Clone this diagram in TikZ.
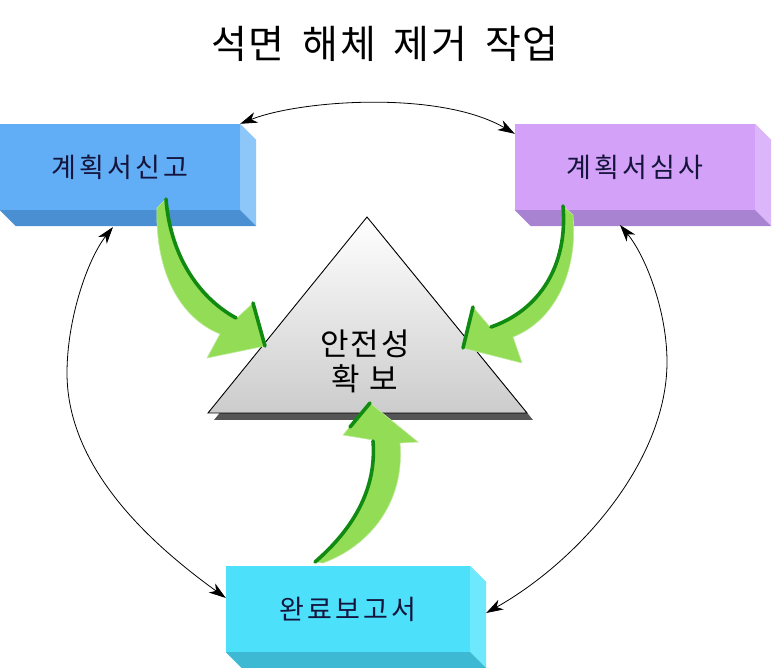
\documentclass[tikz,border=0pt]{standalone}
\usepackage{fontspec}
\usetikzlibrary{arrows.meta,calc}
\newfontfamily\kr{Noto Sans CJK KR}
\newfontfamily\krsp[LetterSpace=12]{Noto Sans CJK KR}
\newfontfamily\krti[LetterSpace=4]{Noto Sans CJK KR}
\definecolor{bfront}{HTML}{62AEF6}
\definecolor{bside}{HTML}{8DC6F9}
\definecolor{bbot}{HTML}{4B8FD3}
\definecolor{pfront}{HTML}{D3A1F8}
\definecolor{pside}{HTML}{DCB6FA}
\definecolor{pbot}{HTML}{A883D2}
\definecolor{cfront}{HTML}{4CE0FA}
\definecolor{cside}{HTML}{6EE8FD}
\definecolor{cbot}{HTML}{3DB9D3}
\definecolor{boxtext}{HTML}{14143C}
\definecolor{gfill}{HTML}{92DC56}
\definecolor{gdark}{HTML}{108A10}
\definecolor{trishadow}{HTML}{555555}
\tikzset{
  face/.style={draw=none, minimum height=86pt, inner sep=0pt, text=boxtext,
    font={\krsp\fontsize{27pt}{30pt}\selectfont}},
  garrow/.style={fill=gfill, draw=gfill!60!white, line width=0.6pt},
  gedge/.style={draw=gdark, line width=3.6pt, line cap=round},
  arc/.style={draw=black, line width=0.8pt, {Stealth[length=17pt,width=11pt,inset=5pt]}-{Stealth[length=17pt,width=11pt,inset=5pt]}}
}
\begin{document}
\begin{tikzpicture}[x=1pt,y=-1pt]
\useasboundingbox (0,0) rectangle (772,668);
\fill[white] (0,0) rectangle (772,668);

% title
\node[font={\krti\fontsize{39pt}{42pt}\selectfont}] (title) at (385,44)
  {석면\hspace{18pt}해체\hspace{18pt}제거\hspace{18pt}작업};

% box 1
\node[face, fill=bfront, minimum width=240pt] (b1) at (120,167) {계획서신고};
\fill[bside] (b1.north east) -- ++(16,16) -- ($(b1.south east)+(16,16)$) -- (b1.south east) -- cycle;
\fill[bbot] (b1.south west) -- (b1.south east) -- ++(16,16) -- ($(b1.south west)+(16,16)$) -- cycle;

% box 2
\node[face, fill=pfront, minimum width=240pt] (b2) at (635,167) {계획서심사};
\fill[pside] (b2.north east) -- ++(16,16) -- ($(b2.south east)+(16,16)$) -- (b2.south east) -- cycle;
\fill[pbot] (b2.south west) -- (b2.south east) -- ++(16,16) -- ($(b2.south west)+(16,16)$) -- cycle;

% box 3
\node[face, fill=cfront, minimum width=244pt] (b3) at (348,609) {완료보고서};
\fill[cside] (b3.north east) -- ++(16,16) -- ($(b3.south east)+(16,16)$) -- (b3.south east) -- cycle;
\fill[cbot] (b3.south west) -- (b3.south east) -- ++(16,16) -- ($(b3.south west)+(16,16)$) -- cycle;

% triangle
\coordinate (ta) at (367,217);
\coordinate (tl) at (208,413);
\coordinate (tr) at (527,413);
\fill[trishadow] ($(ta)+(6,7)$) -- ($(tl)+(6,7)$) -- ($(tr)+(6,7)$) -- cycle;
\shade[top color=white, bottom color=black!20] (ta) -- (tl) -- (tr) -- cycle;
\draw[black, line width=0.9pt, line join=miter] (ta) -- (tl) -- (tr) -- cycle;
\node[font={\kr\fontsize{31pt}{35pt}\selectfont}, align=center, text=black] (tri) at (365,361)
  {안\kern2pt 전\kern2pt 성\\확\kern10pt 보};

% green arrows
\coordinate (g1t) at (166,199);
\coordinate (g1h) at (265,346);
\fill[garrow] (g1t) .. controls (170,252) and (196,296) .. (237,318) -- (253,303) -- (g1h)
  -- (207,358) -- (220,334) .. controls (180,318) and (155,272) .. (157,208) -- cycle;
\draw[gedge] (g1t) .. controls (170,252) and (196,296) .. (236,318);
\draw[gedge] (253,303) -- (g1h);

\coordinate (g2t) at (563,206);
\coordinate (g2h) at (463,348);
\fill[garrow] (g2t) .. controls (568,265) and (540,310) .. (490,327) -- (473,307) -- (g2h)
  -- (522,363) -- (513,337) .. controls (556,320) and (578,270) .. (573,215) -- cycle;
\draw[gedge] (g2t) .. controls (568,265) and (540,310) .. (491,327);
\draw[gedge] (473,307) -- (g2h);

\coordinate (g3t) at (315,562);
\coordinate (g3h) at (370,403);
\fill[garrow] (g3t) .. controls (352,530) and (377,490) .. (373,440) -- (343,435) -- (g3h)
  -- (418,442) -- (400,443) .. controls (405,500) and (372,545) .. (323,563) -- cycle;
\draw[gedge] (g3t) .. controls (352,530) and (377,490) .. (373,441);
\draw[gedge] (350,427) -- (g3h);

% cycle connectors
\coordinate (a1) at (b1.north east);
\coordinate (a2) at ($(b2.north west)+(0,10)$);
\coordinate (a3) at (113,227);
\coordinate (a4) at ($(b3.west)+(0,-11)$);
\coordinate (a5) at (620,225);
\coordinate (a6) at ($(b3.east)+(16,4)$);
\draw[arc] (a1) .. controls (300,100) and (440,90) .. (a2);
\draw[arc] (a3) .. controls (87,260) and (67,320) .. (67,373) .. controls (67,470) and (154,546) .. (a4);
\draw[arc] (a5) .. controls (645,255) and (667,310) .. (667,362) .. controls (667,460) and (580,560) .. (a6);
\end{tikzpicture}
\end{document}
